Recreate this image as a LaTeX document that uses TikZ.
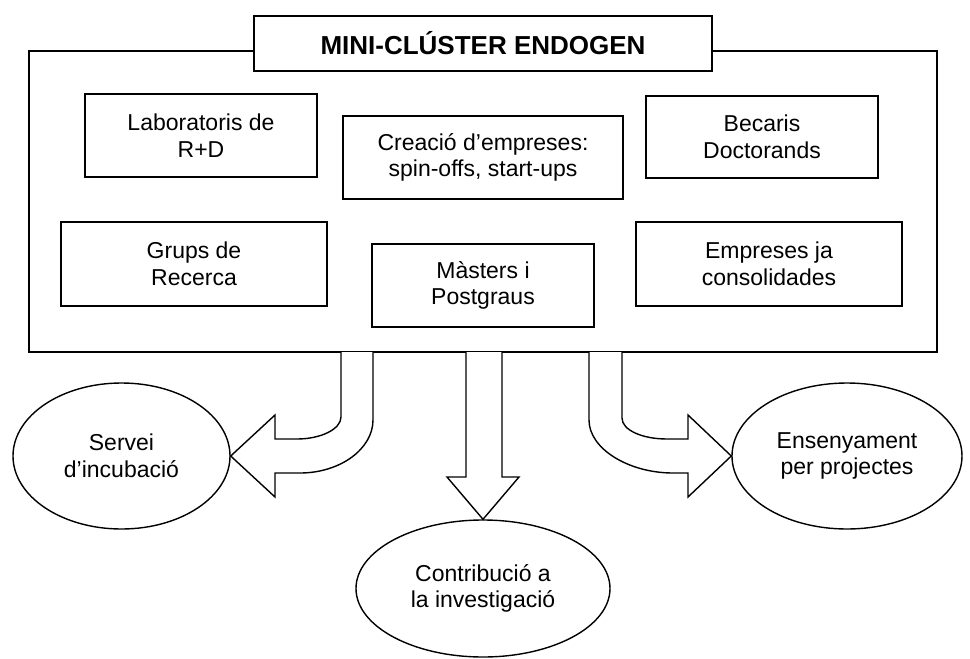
\documentclass[tikz,border=0pt]{standalone}
\usepackage{fontspec}
\setmainfont{Liberation Sans}
\usetikzlibrary{shapes.geometric}

\begin{document}
\begin{tikzpicture}[x=1pt, y=-1pt, line width=1.4pt]

    \tikzstyle{block} = [rectangle, draw, fill=white, align=center, inner sep=0pt, font=\fontsize{23}{26.5}\selectfont]
    \tikzstyle{result} = [ellipse, draw, fill=white, align=center, inner sep=0pt, font=\fontsize{23}{26.5}\selectfont]
    \tikzstyle{bigarrow} = [draw, fill=white, line join=miter]

    \useasboundingbox (0,0) rectangle (970,659);

    \node[rectangle, draw, minimum width=908pt, minimum height=301pt] (cluster) at (483,201.5) {};
    \node[block, minimum width=458pt, minimum height=55pt, font=\fontsize{26}{30}\selectfont\bfseries] (title) at (483,43.5) {MINI-CLÚSTER ENDOGEN};

    \node[block, minimum width=232pt, minimum height=83pt] (labs) at (201,135.5) {Laboratoris de\\R+D};
    \node[block, minimum width=280pt, minimum height=83pt] (creacio) at (483,157.5) {Creació d’empreses:\\spin-offs, start-ups};
    \node[block, minimum width=232pt, minimum height=82pt] (becaris) at (762,137) {Becaris\\Doctorands};
    \node[block, minimum width=266pt, minimum height=84pt] (grups) at (194,264) {Grups de\\Recerca};
    \node[block, minimum width=222pt, minimum height=83pt] (masters) at (483,285.5) {Màsters i\\Postgraus};
    \node[block, minimum width=266pt, minimum height=84pt] (empreses) at (769,264) {Empreses ja\\consolidades};

    \node[result, minimum width=217pt, minimum height=146pt] (servei) at (121.5,456) {Servei\\d’incubació};
    \node[result, minimum width=254pt, minimum height=137pt] (contribucio) at (483,588.5) {Contribució a\\la investigació};
    \node[result, minimum width=230pt, minimum height=146pt] (ensenyament) at (847,456) {Ensenyament\\per projectes};

    \draw[bigarrow] (341,352) -- (341,417) .. controls (341,429) and (321,439) .. (297,439) -- (275,439) -- (275,415)
        -- (servei.east) -- (275,497) -- (275,473) -- (300,473) .. controls (340,473) and (373,449) .. (373,420) -- (373,352);
    \draw[bigarrow] (466,352) -- (466,477) -- (447,477) -- (contribucio.north) -- (519,477) -- (502,477) -- (502,352);
    \draw[bigarrow] (622,352) -- (622,418) .. controls (622,430) and (642,439) .. (667,439) -- (688,439) -- (688,415)
        -- (ensenyament.west) -- (688,497) -- (688,473) -- (673,473) .. controls (629,473) and (589,449) .. (589,420) -- (589,352);

\end{tikzpicture}
\end{document}
